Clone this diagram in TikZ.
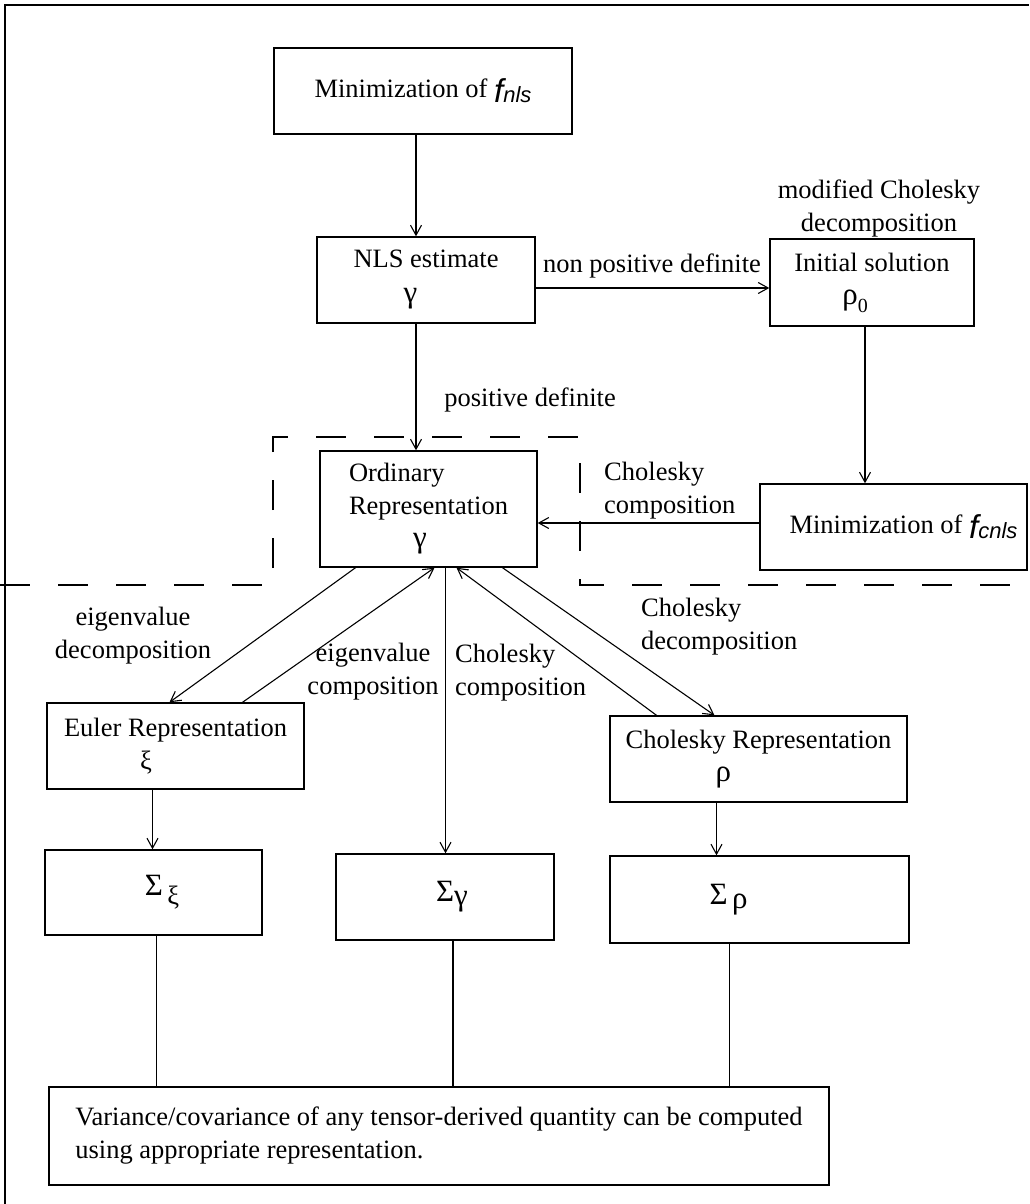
\documentclass[tikz,border=0pt]{standalone}
\usepackage{fontspec}
\setmainfont{Liberation Serif}
\newfontfamily\sansfam{Liberation Sans}
\usetikzlibrary{arrows.meta}
\newcommand{\fmin}[1]{\raisebox{-5pt}{\sansfam\itshape{\fontsize{33}{33}\selectfont f}{\fontsize{22}{22}\selectfont #1}}}
\newcommand{\gr}[1]{{\fontsize{31}{31}\selectfont #1}}

\begin{document}
\begin{tikzpicture}[x=1pt,y=-1pt,
  box/.style={draw,line width=1.4pt,inner sep=0pt,font=\fontsize{26.5}{33}\selectfont},
  lbl/.style={inner sep=0pt,font=\fontsize{26.5}{33}\selectfont},
  arr/.style={-{Straight Barb[length=10pt,width=11pt]},line width=1.1pt},
  link/.style={line width=1.1pt},
  cut/.style={line width=1.8pt,dash pattern=on 30pt off 28pt}]
  \useasboundingbox (0,0) rectangle (1029,1204);
  % Frame
  \draw[line width=1.5pt] (5,1204) -- (5,5);
  \draw[line width=2pt] (4,5) -- (1029,5);
  % Upper boxes
  \node[box,minimum width=298pt,minimum height=86pt] (fnls) at (423,91) {Minimization of \fmin{nls}};
  \node[box,minimum width=218pt,minimum height=86pt,align=left] (nls) at (426,280) {NLS estimate\\\hspace*{50pt}\raisebox{-2pt}{\gr{γ}}};
  \node[box,minimum width=204pt,minimum height=87pt,align=left] (init) at (872,282.5) {Initial solution\\\hspace*{48pt}\gr{ρ}\raisebox{-8pt}{\fontsize{20}{20}\selectfont 0}};
  \node[box,minimum width=217pt,minimum height=116pt,align=left] (ord) at (428.5,509) {Ordinary\\Representation\\\hspace*{64pt}\gr{γ}};
  \node[box,minimum width=267pt,minimum height=86pt] (fcnls) at (893.5,527) {\hspace*{20pt}Minimization of \fmin{cnls}};
  % Lower boxes
  \node[box,minimum width=257pt,minimum height=86pt,align=left] (euler) at (175.5,746) {Euler Representation\\\hspace*{76pt}ξ};
  \node[box,minimum width=297pt,minimum height=86pt,align=left] (chol) at (758.5,759) {Cholesky Representation\\\hspace*{90pt}\gr{ρ}};
  \node[box,minimum width=217pt,minimum height=85pt] (sxi) at (153.5,892.5) {\hspace*{17pt}\gr{Σ}\,\raisebox{-9pt}{ξ}};
  \node[box,minimum width=218pt,minimum height=86pt] (sgam) at (445,897) {\hspace*{14pt}\gr{Σ}\raisebox{-4pt}{\gr{γ}}};
  \node[box,minimum width=299pt,minimum height=87pt] (srho) at (759.5,899.5) {\gr{Σ}\,\raisebox{-4pt}{\gr{ρ}}\hspace*{62pt}};
  \node[box,minimum width=780pt,minimum height=98pt,align=left] (var) at (439,1136) {Variance/covariance of any tensor-derived quantity can be computed\\using appropriate representation.};
  % Labels
  \node[lbl,align=center] (mcd) at (879,208) {modified Cholesky\\decomposition};
  \node[lbl] (npd) at (652,266) {non positive definite};
  \node[lbl] (pd) at (530,400) {positive definite};
  \node[lbl,align=left,anchor=west] (cc1) at (604,491) {Cholesky\\composition};
  \node[lbl,align=center] (evd) at (133,636) {eigenvalue\\decomposition};
  \node[lbl,align=center] (evc) at (373,672) {eigenvalue\\composition};
  \node[lbl,align=left,anchor=west] (cc2) at (455,673) {Cholesky\\composition};
  \node[lbl,align=left,anchor=west] (cd) at (641,627) {Cholesky\\decomposition};
  % Dashed cut
  \draw[cut] (0,585) -- (273,585) -- (273,437) -- (580,437) -- (580,585) -- (1029,585);
  % Arrows
  \draw[arr] ([xshift=-7pt]fnls.south) -- ([xshift=-7pt]fnls.south |- nls.north);
  \draw[arr] ([xshift=-10pt]nls.south) -- ([xshift=-10pt]nls.south |- ord.north);
  \draw[arr] ([yshift=-8pt]nls.east) -- ([yshift=-8pt]nls.east -| init.west);
  \draw[arr] ([xshift=-7pt]init.south) -- ([xshift=-7pt]init.south |- fcnls.north);
  \draw[arr] ([yshift=4pt]fcnls.west) -- ([yshift=4pt]fcnls.west -| ord.east);
  \draw[arr] ([xshift=-73pt]ord.south) -- ([xshift=-6pt]euler.north);
  \draw[arr] ([xshift=67pt]euler.north) -- ([xshift=6pt]ord.south);
  \draw[arr] ([xshift=-102pt]chol.north) -- ([xshift=28pt]ord.south);
  \draw[arr] ([xshift=74pt]ord.south) -- ([xshift=-44pt]chol.north);
  \draw[arr] ([xshift=17pt]ord.south) -- ([xshift=17pt]ord.south |- sgam.north);
  \draw[arr] ([xshift=-23pt]euler.south) -- ([xshift=-23pt]euler.south |- sxi.north);
  \draw[arr] ([xshift=-42pt]chol.south) -- ([xshift=-42pt]chol.south |- srho.north);
  % Links to the result box
  \foreach \n/\dx in {sxi/3,sgam/8,srho/-30}
    \draw[link] ([xshift=\dx pt]\n.south) -- ([xshift=\dx pt]\n.south |- var.north);
\end{tikzpicture}
\end{document}
